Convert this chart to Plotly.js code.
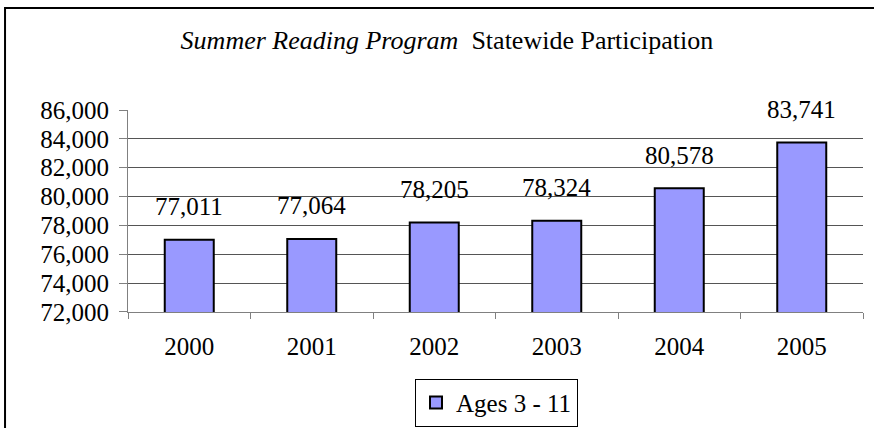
<!DOCTYPE html>
<html>
<head>
<meta charset="utf-8">
<script src="https://cdn.plot.ly/plotly-3.0.1.min.js"></script>
<style>
html,body{margin:0;padding:0;background:#fff;}
#chart{width:874px;height:428px;}
</style>
</head>
<body>
<div id="chart"></div>
<script>
var years = ['2000', '2001', '2002', '2003', '2004', '2005'];
var participants = [77011, 77064, 78205, 78324, 80578, 83741];
var labels = ['77,011', '77,064', '78,205', '78,324', '80,578', '83,741'];
var seriesName = 'Ages 3 - 11';
var yTicks = [72000, 74000, 76000, 78000, 80000, 82000, 84000, 86000];
var yGrid = [74000, 76000, 78000, 80000, 82000, 84000];

var FONT = "Liberation Serif, Times New Roman, serif";
var FS = 25;

var trace = {
  type: 'bar',
  x: years,
  y: participants,
  name: seriesName,
  width: 0.4,
  marker: {color: '#9999FF', line: {color: '#000000', width: 2}},
  showlegend: true,
  hoverinfo: 'none'
};

// category axis: annotation x given as category index
var annotations = years.map(function (yr, i) {
  return {
    x: i, y: participants[i], xref: 'x', yref: 'y',
    text: labels[i], showarrow: false,
    yanchor: 'middle', yshift: 33,
    font: {family: FONT, size: FS, color: '#000'}
  };
});

var layout = {
  width: 874, height: 428,
  margin: {l: 128, r: 11, t: 110, b: 0},
  paper_bgcolor: '#fff', plot_bgcolor: '#fff',
  font: {family: FONT, size: FS, color: '#000'},
  title: {
    text: '<i>Summer Reading Program</i>&nbsp; Statewide Participation',
    font: {family: FONT, size: 26, color: '#000'},
    x: 0.5114, xanchor: 'center',
    y: 0.9065, yanchor: 'middle'
  },
  xaxis: {
    type: 'category',
    range: [-0.5, 5.5],
    showline: true, linecolor: '#808080', linewidth: 1,
    ticks: 'outside', tickson: 'boundaries', ticklen: 6, tickcolor: '#808080',
    showgrid: false, zeroline: false,
    ticklabelstandoff: 12,
    tickfont: {family: FONT, size: FS, color: '#000'}
  },
  yaxis: {
    domain: [0.3648, 1],
    range: [72000, 86000],
    tickmode: 'array', tickvals: yTicks,
    tickformat: ',d', ticksuffix: '\u00a0\u00a0\u00a0',
    showline: true, linecolor: '#808080', linewidth: 1,
    ticks: 'outside', ticklen: 8, tickcolor: '#808080',
    showgrid: false, zeroline: false,
    ticklabelstandoff: 5,
    tickfont: {family: FONT, size: FS, color: '#000'},
    minor: {tickmode: 'array', tickvals: yGrid, showgrid: true, gridcolor: '#555555', gridwidth: 1, ticks: ''}
  },
  bargap: 0.6,
  showlegend: true,
  legend: {
    x: 0.5014, xanchor: 'center', y: 0.004, yanchor: 'bottom',
    bordercolor: '#000', borderwidth: 1, bgcolor: '#fff',
    font: {family: FONT, size: FS, color: '#000'}
  },
  annotations: annotations,
  shapes: [{
    type: 'rect', xref: 'paper', yref: 'paper',
    x0: -0.1673, x1: 1.2, y0: -0.5, y1: 1.3208,
    line: {color: '#000', width: 2}, fillcolor: 'rgba(0,0,0,0)', layer: 'above'
  }]
};

Plotly.newPlot('chart', [trace], layout, {displayModeBar: false, staticPlot: true});
</script>
</body>
</html>
